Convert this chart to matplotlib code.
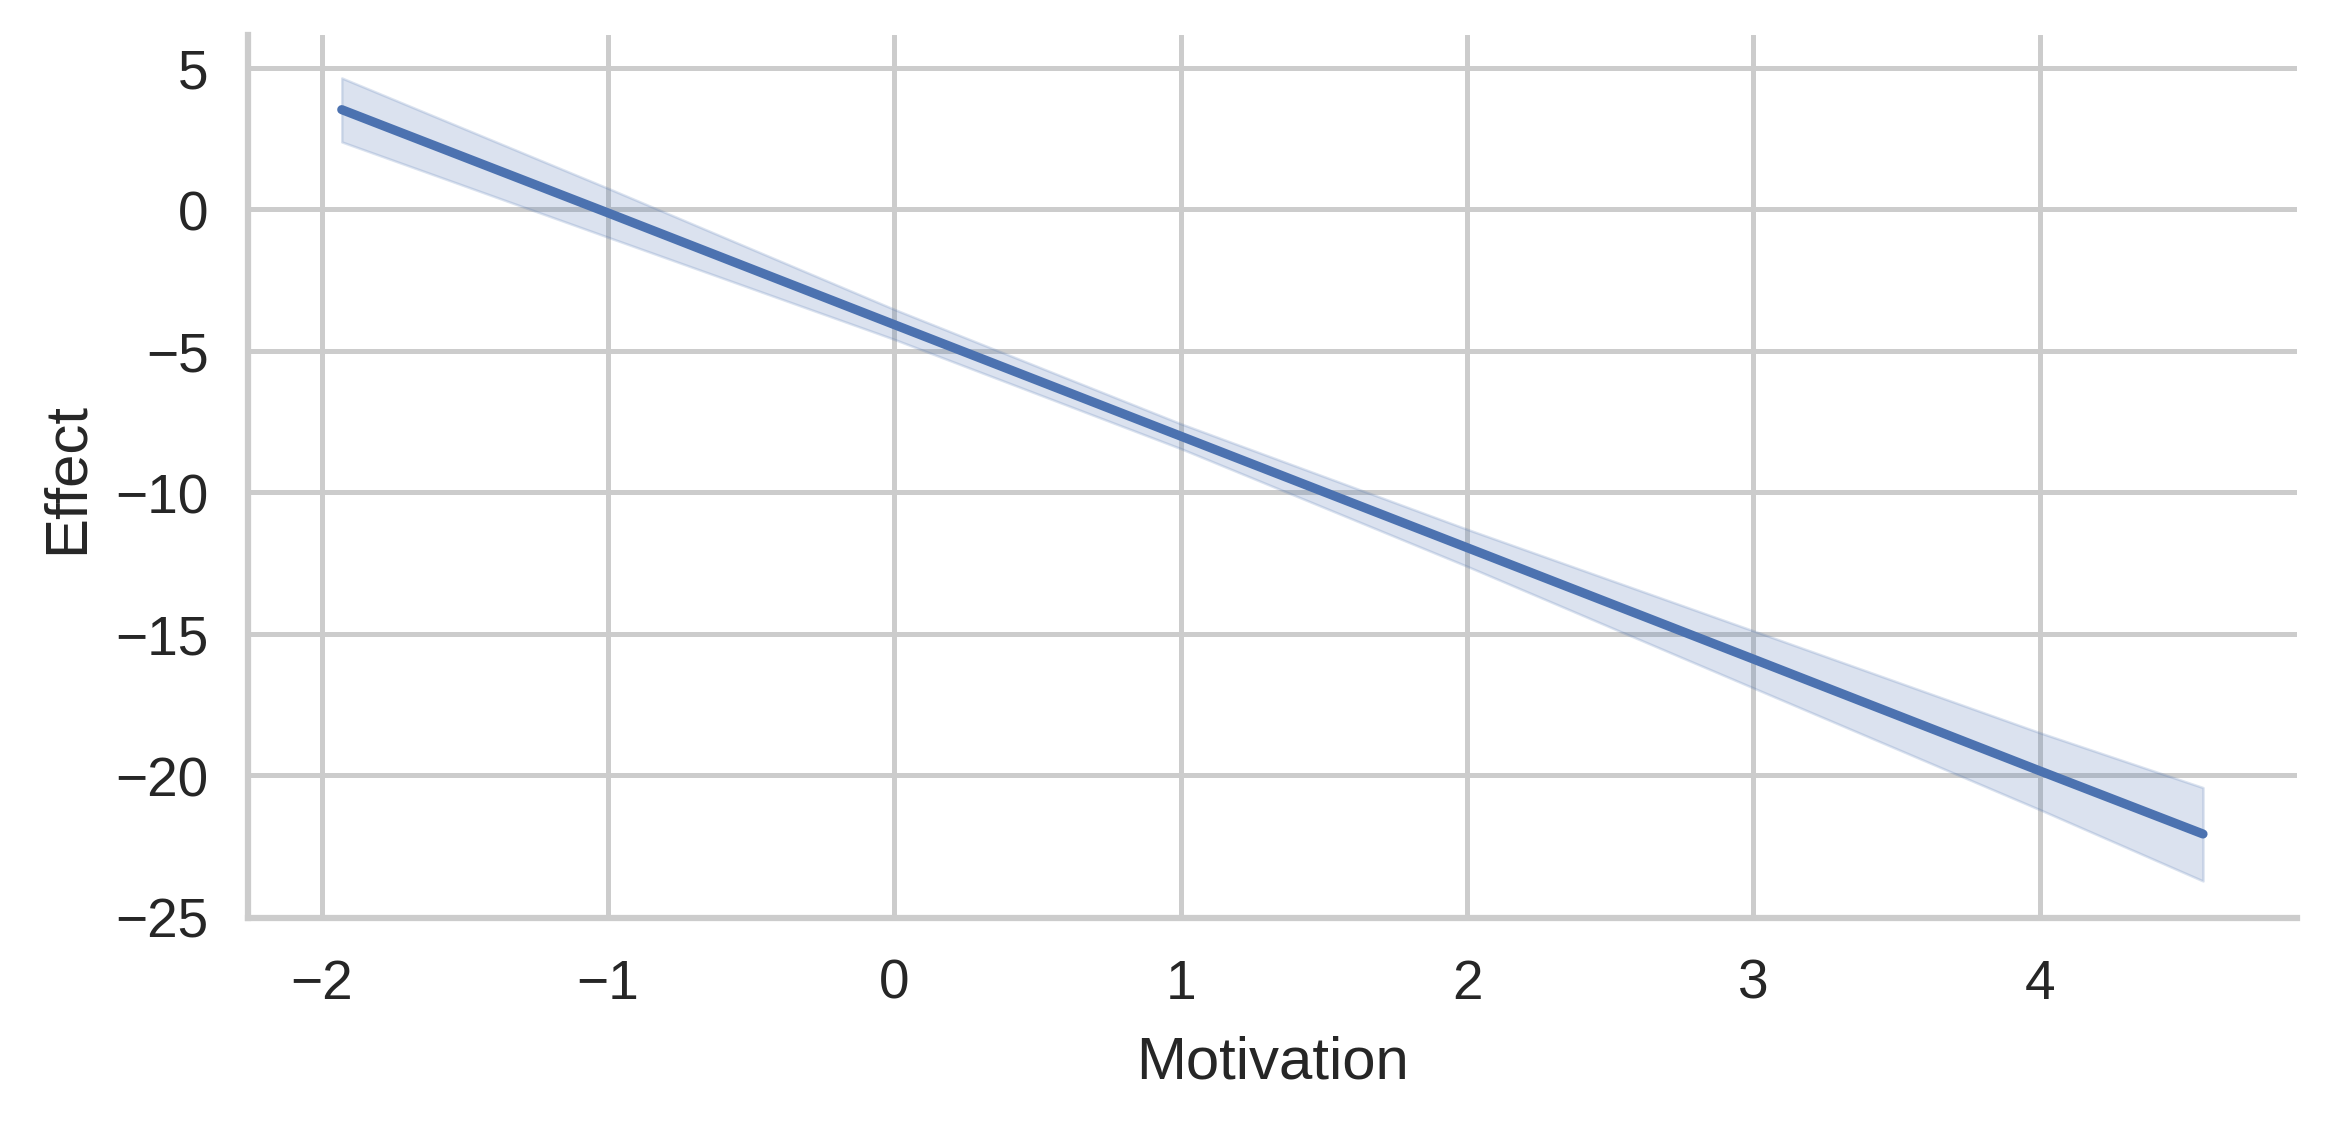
import numpy as np
import matplotlib
matplotlib.use("Agg")
import matplotlib.pyplot as plt
import seaborn as sns

# values
motivation = [-1.93, -1.0, 0.0, 1.0, 2.0, 3.0, 4.0, 4.57]
effect = [3.52, -0.13, -4.08, -8.02, -11.96, -15.90, -19.85, -22.08]
ci_low = [2.38, -0.99, -4.60, -8.46, -12.62, -16.92, -21.22, -23.74]
ci_high = [4.64, 0.74, -3.54, -7.58, -11.31, -14.90, -18.50, -20.44]

sns.set_theme(style="whitegrid", font_scale=1.2,
              rc={"grid.linewidth": 1.2, "axes.linewidth": 1.5})
plt.rcParams['font.family'] = ['Liberation Sans', 'DejaVu Sans']

fig, ax = plt.subplots(figsize=(7.78, 3.763), dpi=300)
fig.subplots_adjust(left=0.1063, right=0.984, top=0.968, bottom=0.186)

color = sns.color_palette("deep")[0]
ax.fill_between(motivation, ci_low, ci_high, color=color, alpha=0.2,
                linewidth=0.6)
ax.plot(motivation, effect, color=color, linewidth=2.2, solid_capstyle="round")

ax.set_xlim(-2.257, 4.897)
ax.set_ylim(-25.05, 6.15)
ax.set_yticks([-25, -20, -15, -10, -5, 0, 5])
ax.set_xticks([-2, -1, 0, 1, 2, 3, 4])
ax.set_xlabel("Motivation", labelpad=6)
ax.set_ylabel("Effect", labelpad=5)
sns.despine(ax=ax)

fig.savefig("out.png", dpi=300)
